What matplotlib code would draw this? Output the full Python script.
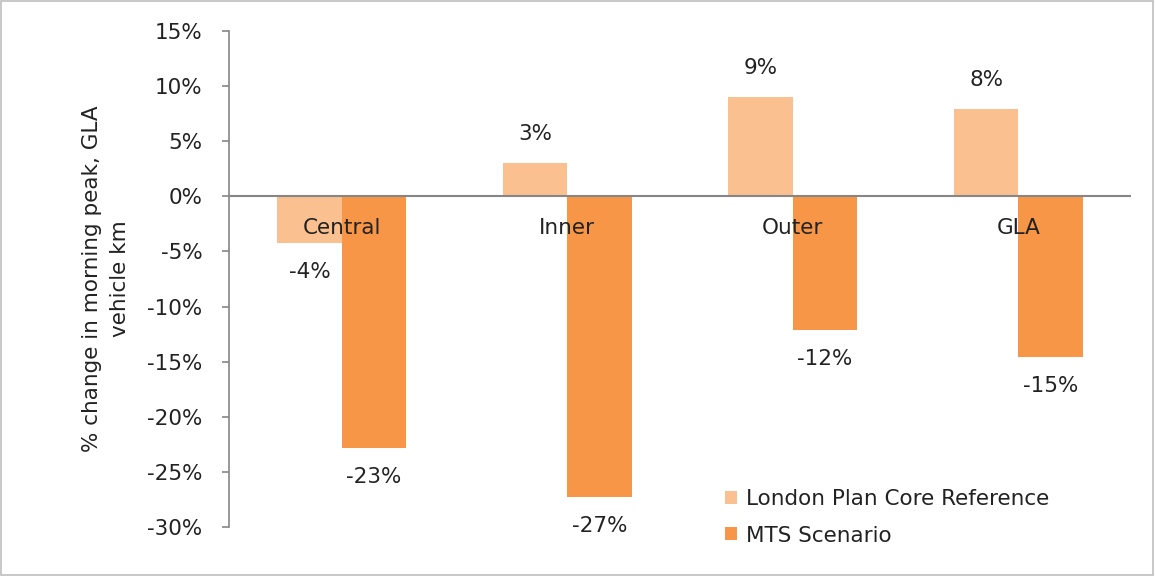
import numpy as np
import matplotlib.pyplot as plt
from matplotlib.patches import Rectangle
from matplotlib.ticker import FuncFormatter

plt.rcParams['font.family'] = ['DejaVu Sans']

# data
areas = ['Central', 'Inner', 'Outer', 'GLA']
london_plan = [-4.2, 3.0, 9.0, 7.9]
mts_scenario = [-22.8, -27.3, -12.1, -14.6]
series_names = ['London Plan Core Reference', 'MTS Scenario']
light_col = '#FAC090'
dark_col = '#F79646'
grey = '#868686'
txt = '#222222'
fs = 15.5

fig = plt.figure(figsize=(11.55, 5.76), dpi=100)
ax = fig.add_axes([229 / 1155, 1 - 527 / 576, 902 / 1155, 496 / 576])

x = np.arange(len(areas))
w = 0.285
b1 = ax.bar(x - w / 2, london_plan, w, color=light_col, label=series_names[0])
b2 = ax.bar(x + w / 2, mts_scenario, w, color=dark_col, label=series_names[1])

# value labels above / below bars
for bars, vals in [(b1, london_plan), (b2, mts_scenario)]:
    for rect, v in zip(bars, vals):
        off = 21 if v > 0 else -21
        ax.annotate(f'{round(v):d}%', (rect.get_x() + rect.get_width() / 2, v),
                    xytext=(0, off), textcoords='offset points',
                    ha='center', va='center', fontsize=fs, color=txt)

# category names sit just under the zero line
for xi, name in zip(x, areas):
    ax.text(xi, -2.9, name, ha='center', va='center', fontsize=fs, color=txt)

ax.set_xlim(-0.5, 3.5)
ax.set_ylim(-30, 15)
ax.set_yticks(np.arange(-30, 16, 5))
ax.yaxis.set_major_formatter(FuncFormatter(lambda v, p: f'{v:.0f}%'))
ax.tick_params(axis='y', direction='out', length=5, width=1.2, color=grey,
               labelsize=fs, labelcolor=txt, pad=14)
ax.set_xticks([])
ax.axhline(0, color=grey, lw=1.5)
for s in ['top', 'right', 'bottom']:
    ax.spines[s].set_visible(False)
ax.spines['left'].set_color(grey)
ax.spines['left'].set_linewidth(1.2)

ax.set_ylabel('% change in morning peak, GLA\nvehicle km', fontsize=fs,
              color=txt, labelpad=12, linespacing=1.5)

fig.legend(loc='upper left', bbox_to_anchor=(706 / 1155, 1 - 470 / 576),
           frameon=False, fontsize=fs, handlelength=0.55, handleheight=0.55,
           handletextpad=0.4, labelspacing=0.75, labelcolor=txt)

# thin grey frame round the whole chart
fig.patches.append(Rectangle((0.001, 0.002), 0.997, 0.996, transform=fig.transFigure,
                             fill=False, edgecolor='#BFBFBF', lw=1.2))

fig.savefig('out.png', dpi=100)
